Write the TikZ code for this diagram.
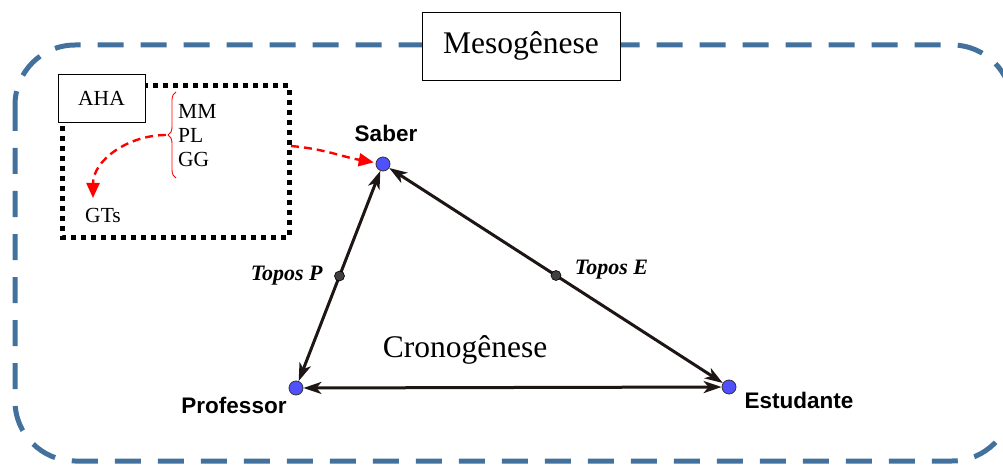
\documentclass[tikz,border=0pt]{standalone}
\usepackage{fontspec}
\setmainfont{Liberation Serif}
\setsansfont{Liberation Sans}
\usetikzlibrary{arrows.meta,calc,positioning,decorations.pathreplacing}
\definecolor{mesoblue}{RGB}{65,113,156}
\definecolor{vertexblue}{RGB}{80,80,255}
\definecolor{edgedark}{RGB}{30,22,20}
\definecolor{toposgray}{RGB}{64,64,64}

\tikzset{
  mesoframe/.style={draw=mesoblue, line width=5pt, dash pattern=on 26pt off 17pt, rounded corners=60pt},
  labelbox/.style={draw, fill=white, line width=0.9pt, inner sep=0pt},
  dotframe/.style={draw, line width=5pt, dash pattern=on 5pt off 5pt},
  redflow/.style={red, line width=2.4pt, dash pattern=on 8pt off 5pt, -{Triangle[length=15pt,width=13pt]}},
  vertex/.style={circle, draw=black!80, fill=vertexblue, line width=0.8pt, minimum size=14pt, inner sep=0pt},
  topos/.style={circle, draw=black, fill=toposgray, line width=0.6pt, minimum size=10pt, inner sep=0pt},
  relation/.style={edgedark, line width=3pt, {Stealth[length=18pt,width=12pt,inset=5pt,fill=black!60]}-{Stealth[length=18pt,width=12pt,inset=5pt,fill=black!60]}},
  vlabel/.style={font=\sffamily\bfseries\fontsize{22.5}{26}\selectfont},
  tlabel/.style={font=\bfseries\itshape\fontsize{22}{25}\selectfont},
  bigtext/.style={font=\fontsize{31.5}{37}\selectfont},
  smalltext/.style={font=\fontsize{21.5}{24}\selectfont}
}

\begin{document}
\begin{tikzpicture}[x=1pt, y=-1pt]
  \clip (0,0) rectangle (1003,465);
  % mesogenese frame
  \draw[mesoframe] (15,45) rectangle (1012,461);
  \node[labelbox, bigtext, minimum width=198pt, minimum height=68pt] (meso) at (521,46) {Mesogênese};

  % AHA block
  \draw[dotframe] (62,86) rectangle (289,237);
  \node[labelbox, smalltext, minimum width=87pt, minimum height=48pt] (aha) at (101.5,98) {AHA};
  \node[smalltext, anchor=west, align=left, inner sep=2pt] (groups) at (176,136) {MM\\PL\\GG};
  \draw[red, line width=0.9pt, decorate, decoration={brace, amplitude=8pt}] (176,178) -- (176,92);
  \coordinate (bracetip) at (166,135);
  \node[smalltext] (gts) at (103,215) {GTs};
  \coordinate (gtsin) at (93,198);
  \draw[redflow] (bracetip) to[out=180, in=90] (gtsin);
  \coordinate (histout) at (291,146);

  % didactic triangle
  \node[vertex] (saber) at (383,164) {};
  \node[vertex] (prof) at (296,388) {};
  \node[vertex] (estud) at (729,387) {};
  \draw[relation] (prof) -- (saber);
  \draw[relation] (saber) -- (estud);
  \draw[relation] (estud) -- (prof);
  \draw[redflow, shorten >=2pt] (histout) to[out=-5, in=170] (saber);

  \node[vlabel] (saberlbl) at (386,133) {Saber};
  \node[vlabel] (proflbl) at (234,405) {Professor};
  \node[vlabel] (estudlbl) at (799,400) {Estudante};

  \node[topos] (tp) at ($(prof)!0.5!(saber)$) {};
  \node[topos] (te) at ($(saber)!0.5!(estud)$) {};
  \node[tlabel, left=8pt of tp] (tplbl) {Topos P};
  \node[tlabel, right=10pt of te, yshift=6pt] (telbl) {Topos E};

  \node[bigtext] (crono) at (465,350) {Cronogênese};
\end{tikzpicture}
\end{document}
